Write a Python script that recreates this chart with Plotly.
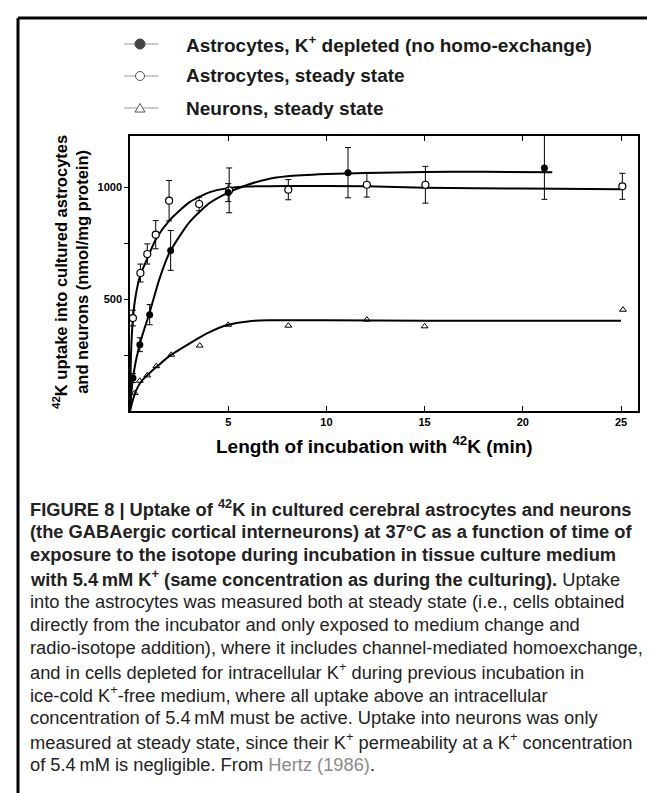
import plotly.graph_objects as go

# ---------------- data ----------------
depl_x = [0.15, 0.5, 1.0, 2.07, 5.0, 11.1, 21.1]
depl_y = [147, 296, 430, 717, 975, 1064, 1085]
depl_err_plus = [20, 31, 45, 89, 40, 112, 250]
depl_err_minus = [20, 31, 45, 89, 40, 112, 140]

steady_x = [0.15, 0.53, 0.88, 1.31, 1.99, 3.52, 5.05, 8.06, 12.06, 15.04, 25.07]
steady_y = [415, 616, 701, 787, 939, 924, 985, 988, 1010, 1010, 1003]
steady_err = [35, 40, 45, 63, 90, 30, 100, 45, 55, 82, 58]

neuron_x = [0.24, 0.5, 0.88, 1.34, 2.1, 3.55, 5.0, 8.06, 12.06, 15.0, 25.1]
neuron_y = [80, 135, 159, 200, 251, 292, 385, 381, 408, 378, 452]

depl_curve_x = [0, 0.15, 0.5, 1, 1.5, 2, 3, 4, 5, 6, 7, 8, 10, 12, 15, 18, 21.5]
depl_curve_y = [0, 150, 300, 440, 590, 705, 840, 925, 975, 1010, 1035, 1048, 1058, 1063, 1067, 1068, 1066]

steady_curve_x = [0, 0.05, 0.15, 0.3, 0.53, 0.88, 1.31, 2, 3, 4, 5, 6, 8, 12, 15, 20, 25]
steady_curve_y = [0, 250, 415, 520, 608, 680, 766, 850, 930, 975, 995, 1002, 1005, 1003, 997, 993, 990]

neuron_curve_x = [0, 0.15, 0.3, 0.6, 1, 1.5, 2, 3, 4, 5, 6, 7, 10, 15, 20, 25]
neuron_curve_y = [0, 50, 90, 135, 170, 208, 245, 300, 350, 385, 400, 405, 405, 403, 403, 403]

x_ticks = [5, 10, 15, 20, 25]
x_ticktext = ["5", "10", "15", "20", "25"]
y_ticks = [250, 500, 750, 1000]
y_ticktext = ["", "500", "", "1000"]

legend_labels = [
    "Astrocytes, K<sup>+</sup> depleted (no homo-exchange)",
    "Astrocytes, steady state",
    "Neurons, steady state",
]

caption_lines = [
    "<b>FIGURE 8 | Uptake of <sup>42</sup>K in cultured cerebral astrocytes and neurons</b>",
    "<b>(the GABAergic cortical interneurons) at 37°C as a function of time of</b>",
    "<b>exposure to the isotope during incubation in tissue culture medium</b>",
    "<b>with 5.4\u2009mM K<sup>+</sup> (same concentration as during the culturing).</b> Uptake",
    "into the astrocytes was measured both at steady state (i.e., cells obtained",
    "directly from the incubator and only exposed to medium change and",
    "radio-isotope addition), where it includes channel-mediated homoexchange,",
    "and in cells depleted for intracellular K<sup>+</sup> during previous incubation in",
    "ice-cold K<sup>+</sup>-free medium, where all uptake above an intracellular",
    "concentration of 5.4\u2009mM must be active. Uptake into neurons was only",
    "measured at steady state, since their K<sup>+</sup> permeability at a K<sup>+</sup> concentration",
    "of 5.4\u2009mM is negligible. From <span style='color:#8a8a8a'>Hertz (1986)</span>.",
]

# ---------------- layout geometry ----------------
W, H = 655, 793
L, R, T, B = 122, 630, 128, 403
PW, PH = R - L, B - T


def px(x):
    return (x - L) / PW


def py(y):
    return (B - y) / PH


FONT = "Liberation Sans, Arial, sans-serif"

fig = go.Figure()

# curves
for cx, cy in [(depl_curve_x, depl_curve_y), (steady_curve_x, steady_curve_y),
               (neuron_curve_x, neuron_curve_y)]:
    fig.add_trace(go.Scatter(x=cx, y=cy, mode="lines",
                             line=dict(color="black", width=2, shape="spline", smoothing=0.6),
                             showlegend=False, hoverinfo="skip"))

# data points
fig.add_trace(go.Scatter(
    x=neuron_x, y=neuron_y, mode="markers",
    marker=dict(symbol="triangle-up-open", size=6, color="black", line=dict(width=1)),
    showlegend=False))
fig.add_trace(go.Scatter(
    x=steady_x, y=steady_y, mode="markers",
    error_y=dict(type="data", array=steady_err, color="black", thickness=1, width=3),
    marker=dict(symbol="circle", size=7, color="white", line=dict(color="black", width=1.2)),
    showlegend=False))
fig.add_trace(go.Scatter(
    x=depl_x, y=depl_y, mode="markers",
    error_y=dict(type="data", array=depl_err_plus, arrayminus=depl_err_minus,
                 symmetric=False, color="black", thickness=1, width=3),
    marker=dict(symbol="circle", size=7, color="black"),
    showlegend=False, cliponaxis=False))

shapes = []
annotations = []

# outer frame (top and left rules)
shapes.append(dict(type="line", xref="paper", yref="paper",
                   x0=px(10), x1=px(660), y0=py(10), y1=py(10),
                   line=dict(color="black", width=3)))
shapes.append(dict(type="line", xref="paper", yref="paper",
                   x0=px(10), x1=px(10), y0=py(10), y1=py(785),
                   line=dict(color="black", width=3)))

# legend
legend_rows = [36, 68, 100]
GREY = "#555555"
for i, (row, lab) in enumerate(zip(legend_rows, legend_labels)):
    shapes.append(dict(type="line", xref="paper", yref="paper",
                       x0=px(116), x1=px(150), y0=py(row), y1=py(row),
                       line=dict(color="#9a9a9a", width=1.2)))
    if i == 0:
        shapes.append(dict(type="circle", xref="paper", yref="paper",
                           xsizemode="pixel", ysizemode="pixel",
                           xanchor=px(132), yanchor=py(row),
                           x0=-5, x1=5, y0=-5, y1=5,
                           fillcolor="#444444", line=dict(color="#444444", width=1)))
    elif i == 1:
        shapes.append(dict(type="circle", xref="paper", yref="paper",
                           xsizemode="pixel", ysizemode="pixel",
                           xanchor=px(132), yanchor=py(row),
                           x0=-4.5, x1=4.5, y0=-4.5, y1=4.5,
                           fillcolor="white", line=dict(color=GREY, width=1)))
    else:
        shapes.append(dict(type="path", xref="paper", yref="paper",
                           xsizemode="pixel", ysizemode="pixel",
                           xanchor=px(132), yanchor=py(row),
                           path="M -5 -4 L 5 -4 L 0 4.5 Z",
                           fillcolor="white", line=dict(color=GREY, width=1)))
    annotations.append(dict(xref="paper", yref="paper", x=px(176), y=py(row),
                            xanchor="left", yanchor="middle", showarrow=False,
                            text="<b>" + lab + "</b>",
                            font=dict(family=FONT, size=19, color="#1a1a1a")))

# y-axis title
annotations.append(dict(xref="paper", yref="paper", x=px(62), y=py(264),
                        xanchor="center", yanchor="middle", showarrow=False,
                        textangle=-90,
                        text="<b><sup>42</sup>K uptake into cultured astrocytes<br>and neurons (nmol/mg protein)</b>",
                        font=dict(family=FONT, size=16.5, color="black")))

# x-axis title
annotations.append(dict(xref="paper", yref="paper", x=px(366), y=py(437),
                        xanchor="center", yanchor="middle", showarrow=False,
                        text="<b>Length of incubation with <sup>42</sup>K (min)</b>",
                        font=dict(family=FONT, size=19, color="black")))

# caption
cap_y0, cap_dy = 500, 23.3
for i, line in enumerate(caption_lines):
    annotations.append(dict(xref="paper", yref="paper", x=px(20), y=py(cap_y0 + i * cap_dy),
                            xanchor="left", yanchor="middle", showarrow=False,
                            text=line, align="left",
                            font=dict(family=FONT, size=18.3, color="#222222")))

fig.update_layout(
    width=W, height=H, autosize=False,
    margin=dict(l=L, r=W - R, t=T, b=H - B, pad=0),
    paper_bgcolor="white", plot_bgcolor="white",
    shapes=shapes, annotations=annotations,
    showlegend=False,
    xaxis=dict(range=[0, (R - L) / 19.64], tickvals=x_ticks,
               ticktext=["<b>" + t + "</b>" for t in x_ticktext],
               ticks="inside", ticklen=5,
               tickwidth=1, tickcolor="black", showline=True, linecolor="black", linewidth=1.5,
               mirror="ticks", showgrid=False, zeroline=False,
               tickfont=dict(family=FONT, size=11, color="black")),
    yaxis=dict(range=[0, (B - T) / 0.224], tickvals=y_ticks,
               ticktext=["" if t == "" else "<b>" + t + "</b>" for t in y_ticktext],
               ticks="outside", ticklen=4, tickwidth=1, tickcolor="black",
               showline=True, linecolor="black", linewidth=1.5, mirror=True,
               showgrid=False, zeroline=False,
               tickfont=dict(family=FONT, size=11, color="black")),
)

fig.write_html("out.html")
